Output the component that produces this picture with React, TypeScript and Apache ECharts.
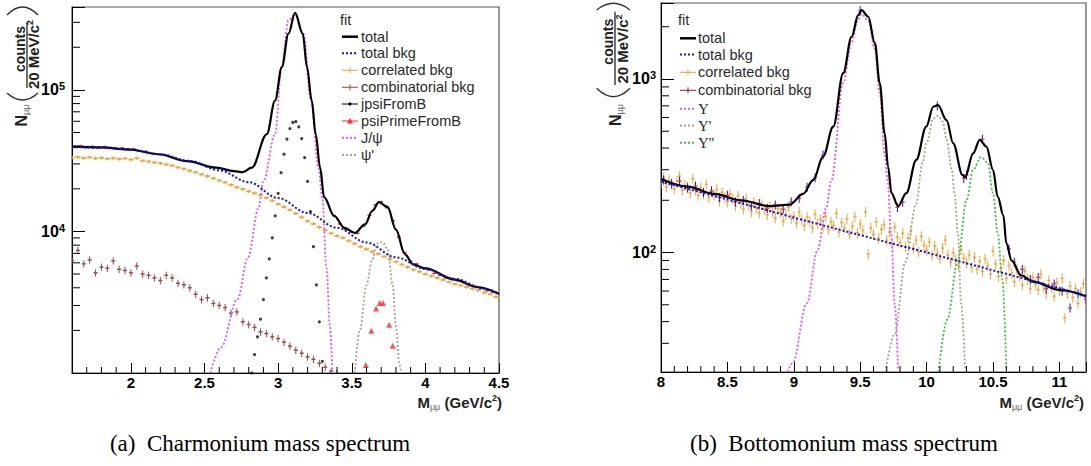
import React, { useEffect, useRef } from 'react';
import * as echarts from 'echarts';

// ---------------- Charmonium (left panel) ----------------
const charmTotal = [
  [1.6, 39700], [1.8, 39200], [1.98, 38000], [2.19, 35100], [2.38, 31400], [2.58, 28200],
  [2.7, 26700], [2.76, 26200], [2.821, 28200], [2.923, 48600], [2.979, 83900], [3.025, 145000],
  [3.07, 250000], [3.115, 350000], [3.167, 250000], [3.196, 145000], [3.228, 83900], [3.255, 48600],
  [3.285, 28200], [3.312, 17500], [3.38, 12900], [3.45, 10600], [3.52, 9750], [3.59, 11200],
  [3.64, 14000], [3.684, 16100], [3.743, 14900], [3.8, 10300], [3.86, 6920], [3.917, 5860],
  [4.0, 5480], [4.2, 4560], [4.35, 4050], [4.5, 3620],
];
const charmTotalBkg = [
  [1.6, 39500], [1.8, 39000], [2.0, 37800], [2.2, 35000], [2.4, 31500], [2.6, 27000], [2.8, 22300],
  [3.0, 17200], [3.2, 13500], [3.4, 10600], [3.6, 8350], [3.8, 6560], [4.0, 5430], [4.2, 4620],
  [4.4, 3930], [4.5, 3630],
];
const charmJpsi = [
  [2.54, 1000], [2.61, 1510], [2.725, 3340], [2.795, 6560], [2.866, 14500], [2.9, 22600],
  [2.979, 48700], [3.024, 145000], [3.07, 310000], [3.115, 340000], [3.171, 250000], [3.224, 84000],
  [3.274, 28200], [3.3, 17100], [3.328, 5550], [3.352, 2130], [3.368, 1020],
];
const charmPsiPrime = [
  [3.52, 1000], [3.555, 2010], [3.6, 4180], [3.637, 6200], [3.671, 8220], [3.707, 8450],
  [3.743, 7570], [3.778, 4180], [3.8, 2130], [3.825, 1140], [3.835, 1000],
];
// correlated bkg: bins from 1.60 in steps of 0.04
const charmCorrStart = 1.6;
const charmCorrStep = 0.04;
const charmCorr = [
  33200, 33500, 33000, 33400, 32800, 33100, 32600, 32900, 32500, 32800, 32200, 32900, 31600, 31200,
  30700, 30300, 29700, 29200, 28300, 27700, 26900, 26200, 25300, 24600, 23700, 22900, 22200, 21300,
  20500, 19900, 19200, 18600, 18100, 17300, 16500, 15600, 14900, 14200, 13400, 12600, 11800, 11300,
  10700, 10200, 9700, 9300, 9000, 8600, 8200, 7800, 7500, 7200, 6950, 6650, 6350, 6100, 5850, 5600,
  5370, 5200, 5000, 4850, 4700, 4550, 4400, 4250, 4150, 4050, 3950, 3850, 3700, 3600, 3450,
];
// combinatorial bkg: bins from 1.60 in steps of 0.04
const charmCombStart = 1.6;
const charmCombStep = 0.04;
const charmComb = [
  6200, 7350, 5900, 6300, 5100, 5600, 5500, 6200, 5400, 5300, 5100, 5700, 5000, 4900, 4700, 4500,
  4900, 4700, 4300, 4200, 4000, 3600, 3300, 3400, 3100, 3000, 2900, 2650, 2700, 2300, 2200, 2100,
  1950, 1900, 1800, 1750, 1650, 1550, 1450, 1380, 1300, 1250, 1170, 1100, 1030, 990,
];
const charmJpsiFromB = [
  [2.82, 1000], [2.84, 1350], [2.86, 1800], [2.88, 2400], [2.9, 3300], [2.92, 4700], [2.94, 6400],
  [2.96, 9000], [2.98, 12900], [3.0, 18600], [3.02, 26000], [3.04, 35100], [3.06, 44900],
  [3.08, 53300], [3.1, 58900], [3.12, 59600], [3.14, 54800], [3.16, 45300], [3.18, 33200],
  [3.2, 22600], [3.22, 13800], [3.24, 7800], [3.26, 4200], [3.28, 2300], [3.3, 1210],
];
const charmPsiPrimeFromB = [
  [3.595, 1140], [3.633, 1990], [3.665, 2850], [3.69, 3120], [3.712, 3120], [3.754, 2190], [3.778, 1560],
];
const charmData = [
  [1.62, 39500], [1.66, 40200], [1.7, 39300], [1.74, 39800], [1.78, 39100], [1.82, 39600],
  [1.86, 38800], [1.9, 38500], [1.94, 38900], [1.98, 37900], [2.02, 38200], [2.06, 37000],
  [2.1, 36800], [3.38, 12900], [3.42, 11300], [3.46, 10300], [3.5, 9950], [3.54, 9700],
  [3.58, 10900], [3.62, 13000], [3.66, 15400], [3.7, 16200], [3.74, 14700], [3.78, 11900],
  [3.82, 9100], [3.86, 7100], [3.9, 6150], [3.94, 5900], [3.98, 5550], [4.02, 5350], [4.06, 5050],
  [4.1, 4900], [4.14, 4700], [4.18, 4650], [4.22, 4480], [4.26, 4350], [4.3, 4220], [4.34, 4100],
  [4.38, 3980], [4.42, 3820], [4.46, 3720],
];
const charmLegend = ['total', 'total bkg', 'correlated bkg', 'combinatorial bkg', 'jpsiFromB', 'psiPrimeFromB', 'J/ψ', "ψ'"];
const charmYExponents = [4, 5];

// ---------------- Bottomonium (right panel) ----------------
const bottTotal = [
  [8.0, 265], [8.2, 240], [8.4, 218], [8.6, 200], [8.82, 185], [8.97, 189], [9.07, 218],
  [9.147, 262], [9.22, 357], [9.297, 531], [9.372, 1080], [9.435, 1750], [9.485, 2330],
  [9.51, 2490], [9.56, 2290], [9.61, 1610], [9.647, 945], [9.684, 486], [9.71, 312], [9.735, 220],
  [9.785, 185], [9.847, 220], [9.922, 342], [9.997, 531], [10.05, 692], [10.085, 708],
  [10.15, 580], [10.2, 426], [10.27, 280], [10.29, 272], [10.35, 373], [10.4, 446], [10.45, 408],
  [10.5, 299], [10.535, 210], [10.578, 164], [10.6, 113], [10.64, 90], [10.71, 74], [10.8, 68],
  [11.0, 61], [11.2, 56],
];
const bottTotalBkg = [
  [8.0, 256], [8.5, 202], [9.0, 159], [9.5, 126], [10.0, 100], [10.5, 79], [11.0, 62.3], [11.2, 56],
];
const bottUps1 = [
  [8.953, 20.5], [8.99, 23], [9.098, 51], [9.178, 103], [9.244, 181], [9.283, 262], [9.372, 950],
  [9.435, 1625], [9.485, 2200], [9.51, 2370], [9.56, 2170], [9.61, 1490], [9.647, 830],
  [9.684, 370], [9.706, 262], [9.733, 130], [9.759, 51], [9.785, 21],
];
const bottUps2 = [
  [9.69, 20.5], [9.76, 34], [9.84, 88], [9.92, 190], [9.97, 330], [10.0, 430], [10.05, 590],
  [10.085, 615], [10.12, 570], [10.15, 450], [10.19, 300], [10.21, 220], [10.235, 130],
  [10.26, 51], [10.29, 21],
];
const bottUps3 = [
  [10.09, 20.5], [10.155, 41], [10.235, 90], [10.3, 200], [10.35, 300], [10.41, 355],
  [10.46, 330], [10.5, 220], [10.535, 130], [10.57, 70], [10.6, 21],
];
// correlated bkg: bins from 8.00 in steps of 0.02
const bottCorrStart = 8.0;
const bottCorrStep = 0.02;
const bottCorr = [
  252, 270, 238, 261, 247, 233, 258, 276, 229, 244,
  239, 221, 266, 230, 214, 236, 219, 247, 208, 226,
  215, 231, 198, 222, 209, 196, 218, 205, 186, 212,
  193, 178, 204, 188, 172, 196, 181, 169, 189, 177,
  165, 184, 172, 158, 179, 170, 152, 166, 183, 157,
  162, 148, 171, 155, 143, 160, 151, 139, 166, 147,
  155, 140, 162, 136, 150, 143, 168, 131, 149, 138,
  156, 128, 142, 161, 130, 146, 134, 171, 98, 139,
  127, 150, 121, 136, 145, 118, 131, 112, 140, 123,
  114, 129, 108, 121, 133, 106, 118, 101, 124, 110,
  103, 115, 96, 109, 99, 92, 106, 118, 97, 88,
  100, 91, 84, 104, 93, 87, 97, 82, 94, 80,
  89, 78, 92, 84, 75, 102, 86, 73, 81, 90,
  71, 84, 76, 68, 80, 73, 65, 78, 70, 62,
  72, 66, 61, 75, 64, 58, 69, 63, 56, 67,
  60, 71, 42, 58, 64, 55, 62, 51, 59, 66,
  52,
];
const bottData = [
  [8.02, 262], [8.08, 250], [8.14, 258], [8.2, 236], [8.26, 242], [8.32, 222], [8.38, 226],
  [8.44, 208], [8.5, 214], [8.56, 196], [8.62, 200], [8.68, 186], [8.74, 192], [8.8, 180],
  [8.86, 188], [8.92, 178], [8.98, 196], [9.04, 205], [9.1, 238], [9.16, 270], [9.22, 365],
  [9.5, 2480], [9.78, 182], [9.82, 195], [10.08, 700], [10.28, 268], [10.3, 280], [10.42, 450],
  [10.62, 105], [10.66, 88], [10.72, 80], [10.78, 70], [10.84, 72], [10.9, 62], [10.96, 66],
  [11.02, 60], [11.08, 48], [11.14, 58], [11.2, 54],
];
const bottLegend = ['total', 'total bkg', 'correlated bkg', 'combinatorial bkg', 'Υ', "Υ'", "Υ''"];
const bottYExponents = [2, 3];

// ---------------- axis tick values ----------------
const leftXMinor = [1.7, 1.8, 1.9, 2.1, 2.2, 2.3, 2.4, 2.6, 2.7, 2.8, 2.9, 3.1, 3.2, 3.3, 3.4, 3.6, 3.7, 3.8, 3.9, 4.1, 4.2, 4.3, 4.4];
const rightXMinor = [8.1, 8.2, 8.3, 8.4, 8.6, 8.7, 8.8, 8.9, 9.1, 9.2, 9.3, 9.4, 9.6, 9.7, 9.8, 9.9, 10.1, 10.2, 10.3, 10.4, 10.6, 10.7, 10.8, 10.9, 11.1];
const leftYMinor = [2000, 3000, 4000, 5000, 6000, 7000, 8000, 9000, 20000, 30000, 40000, 50000, 60000, 70000, 80000, 90000, 200000, 300000];
const rightYMinor = [30, 40, 50, 60, 70, 80, 90, 200, 300, 400, 500, 600, 700, 800, 900, 2000];

const captions = ['(a)\u00a0 Charmonium mass spectrum', '(b)\u00a0 Bottomonium mass spectrum'];

// ---------------- styling ----------------
const FONT = '"Liberation Sans", Arial, Helvetica, sans-serif';
const SERIF = '"Liberation Serif", "Times New Roman", serif';
const BLUE = '#1010e8';
const ORANGE = '#f2a33a';
const BROWN = '#a04848';
const DARKRED = '#8b1a2a';
const RED = '#ff2a2a';
const MAGENTA = '#f050f0';
const GRAY = '#a8a290';
const GREEN = '#3cc43c';

const binned = (start: number, step: number, vals: number[]) =>
  vals.map((v, i) => [Math.round((start + i * step) * 1000) / 1000, v]);

const lineSeries = (name: string, data: any[], xi: number, color: string, width: number, dash: any, z: number, smooth: any = 0.35) => ({
  type: 'line', name, xAxisIndex: xi, yAxisIndex: xi, data, showSymbol: false, symbol: 'none',
  smooth, smoothMonotone: 'x', clip: true, silent: true, z,
  lineStyle: { color, width, type: dash },
});

const errSeries = (name: string, data: any[], xi: number, color: string, barColor: string, frac: number, half: number, lw: number, z: number) => ({
  type: 'custom', name, xAxisIndex: xi, yAxisIndex: xi, data, clip: true, silent: true, z,
  renderItem: (params: any, api: any) => {
    const x = api.value(0), y = api.value(1);
    const p = api.coord([x, y]);
    const a = api.coord([x, y * (1 + frac)]);
    const b = api.coord([x, y * (1 - frac)]);
    return {
      type: 'group',
      children: [
        { type: 'line', shape: { x1: p[0], y1: a[1], x2: p[0], y2: b[1] }, style: { stroke: barColor, lineWidth: 1 } },
        { type: 'line', shape: { x1: p[0] - half, y1: p[1], x2: p[0] + half, y2: p[1] }, style: { stroke: color, lineWidth: lw } },
      ],
    };
  },
});

const xTickSeries = (vals: number[], xi: number, yv: number, len: number) => ({
  type: 'custom', xAxisIndex: xi, yAxisIndex: xi, silent: true, clip: false, z: 6,
  data: vals.map((v) => [v, yv]),
  renderItem: (params: any, api: any) => {
    const p = api.coord([api.value(0), api.value(1)]);
    return { type: 'line', shape: { x1: p[0], y1: p[1], x2: p[0], y2: p[1] - len }, style: { stroke: '#000', lineWidth: 1 } };
  },
});
const yTickSeries = (vals: number[], xi: number, xv: number, len: number) => ({
  type: 'custom', xAxisIndex: xi, yAxisIndex: xi, silent: true, clip: false, z: 6,
  data: vals.map((v) => [xv, v]),
  renderItem: (params: any, api: any) => {
    const p = api.coord([api.value(0), api.value(1)]);
    return { type: 'line', shape: { x1: p[0], y1: p[1], x2: p[0] + len, y2: p[1] }, style: { stroke: '#000', lineWidth: 1 } };
  },
});

const xLabelFmt = (v: number) => (Math.abs(v * 2 - Math.round(v * 2)) < 1e-6 ? String(v) : '');
const yLabelFmt = (exps: number[]) => (v: number) => {
  const l = Math.log10(v);
  const e = Math.round(l);
  return Math.abs(l - e) < 1e-6 && exps.indexOf(e) >= 0 ? `{b|10}{s|${e}}` : '';
};

const xAxisBase = (gi: number, min: number, max: number) => ({
  type: 'value', gridIndex: gi, min, max, splitNumber: 6,
  axisLine: { onZero: false, lineStyle: { color: '#000', width: 1 } },
  axisTick: { inside: true, length: 10, lineStyle: { color: '#000' } },
  splitLine: { show: false },
  axisLabel: { formatter: xLabelFmt, margin: 2, color: '#000', fontSize: 15, fontWeight: 'bold', fontFamily: FONT, lineHeight: 15 },
});
const yAxisBase = (gi: number, min: number, max: number, margin: number, exps: number[]) => ({
  type: 'log', logBase: 10, gridIndex: gi, min, max,
  axisLine: { show: true, onZero: false, lineStyle: { color: '#000', width: 1 } },
  axisTick: { show: true, inside: true, length: 13, lineStyle: { color: '#000' } },
  minorTick: { show: false },
  splitLine: { show: false },
  axisLabel: {
    formatter: yLabelFmt(exps), margin, color: '#000', fontFamily: FONT,
    rich: {
      b: { fontSize: 16, fontWeight: 'bold', fontFamily: FONT, color: '#000', lineHeight: 18 },
      s: { fontSize: 11, fontWeight: 'bold', fontFamily: FONT, color: '#000', lineHeight: 11, verticalAlign: 'top' },
    },
  },
});

// ---------------- graphic helpers ----------------
const txt = (x: number, y: number, text: string, extra: any = {}) => ({
  type: 'text', x, y, z: 100, silent: true,
  style: { text, fill: '#2a2a2a', fontSize: 14.5, fontFamily: FONT, align: 'left', verticalAlign: 'middle', textAlign: 'left', textVerticalAlign: 'middle', ...extra },
});

const sample = (kind: string, color: string, x1: number, x2: number, y: number) => {
  const els: any[] = [];
  const mid = (x1 + x2) / 2;
  if (kind === 'solid') {
    els.push({ type: 'line', shape: { x1, y1: y, x2, y2: y }, style: { stroke: color, lineWidth: 2.5 } });
  } else if (kind === 'dotted') {
    els.push({ type: 'line', shape: { x1, y1: y, x2, y2: y }, style: { stroke: color, lineWidth: 2, lineDash: [2, 2] } });
  } else {
    els.push({ type: 'line', shape: { x1, y1: y, x2, y2: y }, style: { stroke: color, lineWidth: 1 } });
    if (kind === 'bar') els.push({ type: 'line', shape: { x1: mid, y1: y - 3, x2: mid, y2: y + 3 }, style: { stroke: color, lineWidth: 1 } });
    if (kind === 'dot') els.push({ type: 'circle', shape: { cx: mid, cy: y, r: 1.6 }, style: { fill: color } });
    if (kind === 'tri') els.push({ type: 'polygon', shape: { points: [[mid - 3, y + 2.5], [mid + 3, y + 2.5], [mid, y - 3]] }, style: { fill: color } });
  }
  return els.map((e) => ({ ...e, z: 100, silent: true }));
};

const yTitle = (nx: number, ny: number, cx: number, cy: number, barX: number, barY1: number, barY2: number, dx: number, dy: number, parX1: number, parX2: number, pTopEnd: number, pTopMid: number, pBotEnd: number, pBotMid: number) => {
  const R = Math.PI / 2;
  const col = '#222';
  return [
    {
      type: 'text', x: nx, y: ny, rotation: R, z: 100, silent: true,
      style: {
        text: '{n|N}{s|μμ}', align: 'center', verticalAlign: 'middle', textAlign: 'center', textVerticalAlign: 'middle',
        rich: {
          n: { fontSize: 16, fontWeight: 'bold', fontFamily: FONT, fill: col, color: col, lineHeight: 18 },
          s: { fontSize: 9, fontFamily: FONT, fill: '#666', color: '#666', lineHeight: 9, verticalAlign: 'bottom' },
        },
      },
    },
    {
      type: 'text', x: cx, y: cy, rotation: R, z: 100, silent: true,
      style: { text: 'counts', fontSize: 14, fontWeight: 'bold', fontFamily: FONT, fill: col, align: 'center', verticalAlign: 'middle', textAlign: 'center', textVerticalAlign: 'middle' },
    },
    { type: 'line', z: 100, silent: true, shape: { x1: barX, y1: barY1, x2: barX, y2: barY2 }, style: { stroke: col, lineWidth: 1.3 } },
    {
      type: 'text', x: dx, y: dy, rotation: R, z: 100, silent: true,
      style: {
        text: '{a|20 MeV/c}{p|2}', align: 'center', verticalAlign: 'middle', textAlign: 'center', textVerticalAlign: 'middle',
        rich: {
          a: { fontSize: 15, fontWeight: 'bold', fontFamily: FONT, fill: col, color: col, lineHeight: 17 },
          p: { fontSize: 9, fontWeight: 'bold', fontFamily: FONT, fill: col, color: col, lineHeight: 9, verticalAlign: 'top' },
        },
      },
    },
    { type: 'bezierCurve', z: 100, silent: true, shape: { x1: parX1, y1: pTopEnd, x2: parX2, y2: pTopEnd, cpx1: (parX1 + parX2) / 2, cpy1: 2 * pTopMid - pTopEnd }, style: { stroke: '#333', lineWidth: 1.4, fill: 'none' } },
    { type: 'bezierCurve', z: 100, silent: true, shape: { x1: parX1, y1: pBotEnd, x2: parX2, y2: pBotEnd, cpx1: (parX1 + parX2) / 2, cpy1: 2 * pBotMid - pBotEnd }, style: { stroke: '#333', lineWidth: 1.4, fill: 'none' } },
  ];
};

const xTitle = (xRight: number, y: number) => ({
  type: 'text', x: xRight, y, z: 100, silent: true,
  style: {
    text: '{m|M}{s|μμ}{m| (GeV/c}{p|2}{m|)}', align: 'right', verticalAlign: 'middle', textAlign: 'right', textVerticalAlign: 'middle',
    rich: {
      m: { fontSize: 15, fontWeight: 'bold', fontFamily: FONT, fill: '#222', color: '#222', lineHeight: 18 },
      s: { fontSize: 9, fontFamily: FONT, fill: '#666', color: '#666', lineHeight: 9, verticalAlign: 'bottom' },
      p: { fontSize: 9, fontWeight: 'bold', fontFamily: FONT, fill: '#222', color: '#222', lineHeight: 9, verticalAlign: 'top' },
    },
  },
});

function buildOption() {
  const leftKinds = [['solid', '#000'], ['dotted', BLUE], ['bar', ORANGE], ['bar', BROWN], ['dot', '#000'], ['tri', RED], ['dotted', MAGENTA], ['dotted', GRAY]];
  const leftYs = [36.7, 53.3, 70.3, 87.3, 104, 121, 137.7, 155];
  const rightKinds = [['solid', '#000'], ['dotted', BLUE], ['bar', ORANGE], ['bar', DARKRED], ['dotted', MAGENTA], ['dotted', GRAY], ['dotted', GREEN]];
  const rightYs = [38.3, 54.5, 72.3, 90.3, 108.7, 125.5, 142.7];

  const graphic: any[] = [];
  graphic.push(txt(340, 20, 'fit'));
  charmLegend.forEach((label, i) => {
    graphic.push(...sample(leftKinds[i][0], leftKinds[i][1], 342, 358, leftYs[i]));
    graphic.push(txt(361, leftYs[i], label));
  });
  graphic.push(txt(678, 20, 'fit'));
  bottLegend.forEach((label, i) => {
    graphic.push(...sample(rightKinds[i][0], rightKinds[i][1], 680, 696, rightYs[i]));
    const serif = i >= 4;
    graphic.push(txt(698, rightYs[i], label, serif ? { fontFamily: SERIF, fontSize: 15 } : {}));
  });
  graphic.push(...yTitle(21.7, 115.5, 20, 49, 27, 22, 88, 33.5, 54.5, 7, 38, 15, 7, 93, 100));
  graphic.push(...yTitle(615.5, 115, 608.3, 41.7, 615, 11.7, 85, 622.5, 49, 596.7, 630, 10, 3.3, 88.3, 96.7));
  graphic.push(xTitle(502, 402));
  graphic.push(xTitle(1084, 402));
  graphic.push({ type: 'text', x: 260, y: 443, z: 100, silent: true, style: { text: captions[0], fontSize: 23, fontFamily: SERIF, fill: '#000', align: 'center', verticalAlign: 'middle', textAlign: 'center', textVerticalAlign: 'middle' } });
  graphic.push({ type: 'text', x: 844, y: 443, z: 100, silent: true, style: { text: captions[1], fontSize: 23, fontFamily: SERIF, fill: '#000', align: 'center', verticalAlign: 'middle', textAlign: 'center', textVerticalAlign: 'middle' } });

  return {
    animation: false,
    backgroundColor: '#fff',
    grid: [
      { left: 72, top: 7, width: 427, height: 366, show: true, borderColor: '#555', borderWidth: 1.2, backgroundColor: 'transparent' },
      { left: 661, top: 3, width: 425, height: 369, show: true, borderColor: '#555', borderWidth: 1.2, backgroundColor: 'transparent' },
    ],
    xAxis: [xAxisBase(0, 1.6, 4.5), xAxisBase(1, 8, 11.2)],
    yAxis: [yAxisBase(0, 1000, 385000, 7, charmYExponents), yAxisBase(1, 20.5, 2740, 5, bottYExponents)],
    series: [
      errSeries('correlated bkg', binned(charmCorrStart, charmCorrStep, charmCorr), 0, ORANGE, ORANGE, 0.03, 2.5, 1.8, 2),
      errSeries('combinatorial bkg', binned(charmCombStart, charmCombStep, charmComb), 0, BROWN, BROWN, 0.06, 2, 1.5, 2),
      { type: 'scatter', name: 'psiPrimeFromB', xAxisIndex: 0, yAxisIndex: 0, data: charmPsiPrimeFromB, symbol: 'triangle', symbolSize: 6, itemStyle: { color: RED }, silent: true, z: 3, clip: true },
      { type: 'scatter', name: 'jpsiFromB', xAxisIndex: 0, yAxisIndex: 0, data: charmJpsiFromB, symbol: 'circle', symbolSize: 3.2, itemStyle: { color: '#111' }, silent: true, z: 3, clip: true },
      lineSeries('J/ψ', charmJpsi, 0, MAGENTA, 1.8, [2, 2], 4),
      lineSeries("ψ'", charmPsiPrime, 0, GRAY, 1.8, [2, 2], 4),
      errSeries('data', charmData, 0, RED, RED, 0.02, 2, 1.3, 4),
      lineSeries('total', charmTotal, 0, '#000', 2.2, 'solid', 5),
      lineSeries('total bkg', charmTotalBkg, 0, BLUE, 2, [2, 2], 5),
      xTickSeries(leftXMinor, 0, 1000, 6),
      yTickSeries(leftYMinor, 0, 1.6, 8),

      errSeries('correlated bkg b', binned(bottCorrStart, bottCorrStep, bottCorr), 1, ORANGE, ORANGE, 0.07, 1.5, 1.5, 2),
      errSeries('data b', bottData, 1, RED, BLUE, 0.06, 2, 1.3, 3),
      lineSeries('Υ', bottUps1, 1, MAGENTA, 1.8, [2, 2], 4),
      lineSeries("Υ'", bottUps2, 1, GRAY, 1.8, [2, 2], 4),
      lineSeries("Υ''", bottUps3, 1, GREEN, 1.8, [2, 2], 4),
      lineSeries('total b', bottTotal, 1, '#000', 2.2, 'solid', 5),
      lineSeries('total bkg b', bottTotalBkg, 1, BLUE, 2, [2, 2], 5, false),
      xTickSeries(rightXMinor, 1, 20.5, 6),
      yTickSeries(rightYMinor, 1, 8, 8),
    ],
    graphic,
  };
}

export default function App() {
  const ref = useRef<HTMLDivElement>(null);
  useEffect(() => {
    const chart = echarts.init(ref.current as HTMLDivElement, null, { renderer: 'svg' });
    chart.setOption(buildOption() as any);
    return () => chart.dispose();
  }, []);
  return <div ref={ref} style={{ position: 'absolute', left: 0, top: 0, width: 1091, height: 466, background: '#fff' }} />;
}
